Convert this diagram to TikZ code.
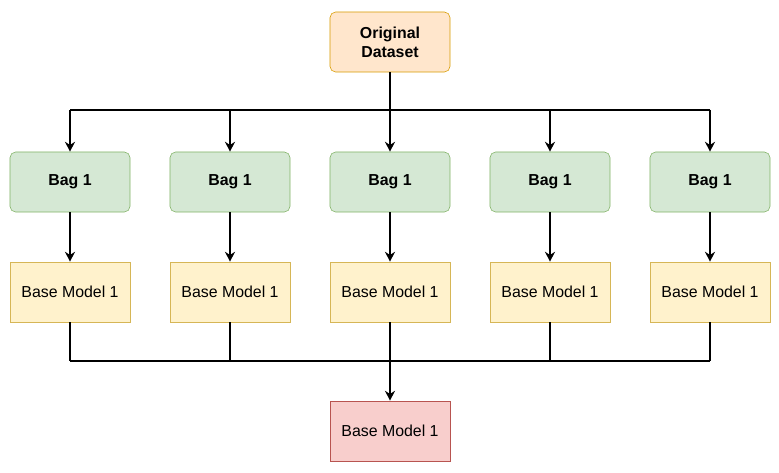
\documentclass[tikz,border=0pt]{standalone}
\usepackage{fontspec}
\setmainfont{Liberation Sans}
\usepackage{xcolor}
\usetikzlibrary{arrows.meta,positioning}
\definecolor{dataFill}{HTML}{FFE6CC}
\definecolor{dataDraw}{HTML}{D79B00}
\definecolor{bagFill}{HTML}{D5E8D4}
\definecolor{bagDraw}{HTML}{82B366}
\definecolor{modelFill}{HTML}{FFF2CC}
\definecolor{modelDraw}{HTML}{D6B656}
\definecolor{finalFill}{HTML}{F8CECC}
\definecolor{finalDraw}{HTML}{B85450}
\tikzset{
  data box/.style={
    draw=dataDraw, fill=dataFill, rectangle, rounded corners=4pt,
    minimum width=3cm, minimum height=1.5cm, align=center,
    font=\fontsize{11.3}{13.5}\selectfont\bfseries
  },
  bag box/.style={
    draw=bagDraw, fill=bagFill, rectangle, rounded corners=4pt,
    minimum width=3cm, minimum height=1.5cm,
    font=\fontsize{11.3}{13.5}\selectfont\bfseries
  },
  model box/.style={
    draw=modelDraw, fill=modelFill, rectangle,
    minimum width=3cm, minimum height=1.5cm,
    font=\fontsize{11.3}{13.5}\selectfont
  },
  final box/.style={
    draw=finalDraw, fill=finalFill, rectangle,
    minimum width=3cm, minimum height=1.5cm,
    font=\fontsize{11.3}{13.5}\selectfont
  },
  flow line/.style={line width=1.3pt, draw=black},
  flow arrow/.style={-{Stealth[length=7pt,width=7pt]}, line width=1.3pt, draw=black},
}
\begin{document}
\begin{tikzpicture}[x=0.025cm, y=-0.025cm]
  \useasboundingbox (0,0) rectangle (779,473);

  % Dataset at the top
  \node[data box] (data) at (390,42) {Original\\Dataset};

  % Bags and their base models
  \foreach \i/\x in {1/70, 2/230, 3/390, 4/550, 5/710} {
    \node[bag box] (bag\i) at (\x,182) {Bag 1};
    \node[model box] (model\i) at (\x,292) {Base Model 1};
  }

  % Final model
  \node[final box] (final) at (390,431) {Base Model 1};

  % Split and merge points
  \coordinate (split) at (390,110);
  \coordinate (merge) at (390,361);

  % Dataset -> bags
  \draw[flow line] (data) -- (split);
  \draw[flow line] (split -| bag1) -- (split -| bag5);
  \foreach \i in {1,...,5} {
    \draw[flow arrow] (split -| bag\i) -- (bag\i);
    \draw[flow arrow] (bag\i) -- (model\i);
  }

  % Base models -> final
  \foreach \i in {1,...,5} {
    \draw[flow line] (model\i) -- (merge -| model\i);
  }
  \draw[flow line] (merge -| model1) -- (merge -| model5);
  \draw[flow arrow] (merge) -- (final);
\end{tikzpicture}
\end{document}
